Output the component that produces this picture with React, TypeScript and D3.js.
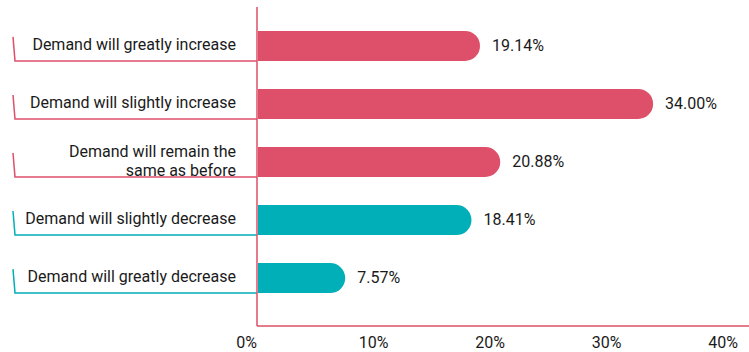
import React from "react";
import * as d3 from "d3";

const categories = [
  ["Demand will greatly increase"],
  ["Demand will slightly increase"],
  ["Demand will remain the", "same as before"],
  ["Demand will slightly decrease"],
  ["Demand will greatly decrease"],
];
const values = [19.14, 34.0, 20.88, 18.41, 7.57];
const groups = ["up", "up", "up", "down", "down"];
const ticks = [0, 10, 20, 30, 40];

const W = 749;
const H = 352;
const PINK = "#DE4F69";
const TEAL = "#00AFB8";

export default function App() {
  const x = d3.scaleLinear().domain([0, 40]).range([257, 723]);
  const y = d3
    .scaleBand<number>()
    .domain(d3.range(values.length))
    .range([17, 307])
    .paddingInner(0.483)
    .paddingOuter(0.24);
  const bw = y.bandwidth();
  const color = (g: string) => (g === "up" ? PINK : TEAL);
  const font = "Roboto, 'Noto Sans', sans-serif";

  const barPath = (v: number, i: number) => {
    const x0 = x(0) + 1;
    const x1 = x(v);
    const y0 = y(i)!;
    const r = bw / 2;
    const p = d3.path();
    p.moveTo(x0, y0);
    p.lineTo(x1 - r, y0);
    p.arc(x1 - r, y0 + r, r, -Math.PI / 2, Math.PI / 2);
    p.lineTo(x0, y0 + bw);
    p.closePath();
    return p.toString();
  };

  return (
    <svg
      width={W}
      height={H}
      style={{ position: "absolute", left: 0, top: 0, fontFamily: font }}
    >
      {values.map((v, i) => {
        const c = color(groups[i]);
        const y0 = y(i)!;
        const yb = y0 + bw;
        const lines = categories[i];
        const lh = 19;
        const cy = y0 + bw / 2 - 1.5;
        return (
          <g key={i}>
            <path d={barPath(v, i)} fill={c} />
            <polyline
              points={`13,${yb - 24} 15,${yb} ${x(0)},${yb}`}
              fill="none"
              stroke={c}
              strokeWidth={1.5}
            />
            <text x={236} textAnchor="end" fontSize={16} fill="#1a1a1a">
              {lines.map((t, j) => (
                <tspan
                  key={j}
                  x={236}
                  y={cy + (j - (lines.length - 1) / 2) * lh}
                  dy="0.35em"
                >
                  {t}
                </tspan>
              ))}
            </text>
            <text
              x={x(v) + 12}
              y={y0 + bw / 2 - 0.5}
              dy="0.35em"
              fontSize={16}
              fill="#1a1a1a"
            >
              {v.toFixed(2)}%
            </text>
          </g>
        );
      })}
      <line x1={x(0)} x2={x(0)} y1={7} y2={326} stroke={PINK} strokeWidth={1.5} />
      <line x1={x(0)} x2={W} y1={326} y2={326} stroke={PINK} strokeWidth={1.5} />
      {ticks.map((t) => (
        <text
          key={t}
          x={x(t)}
          y={342.5}
          dy="0.35em"
          textAnchor={t === 0 ? "end" : "middle"}
          fontSize={16}
          fill="#1a1a1a"
        >
          {t}%
        </text>
      ))}
    </svg>
  );
}
